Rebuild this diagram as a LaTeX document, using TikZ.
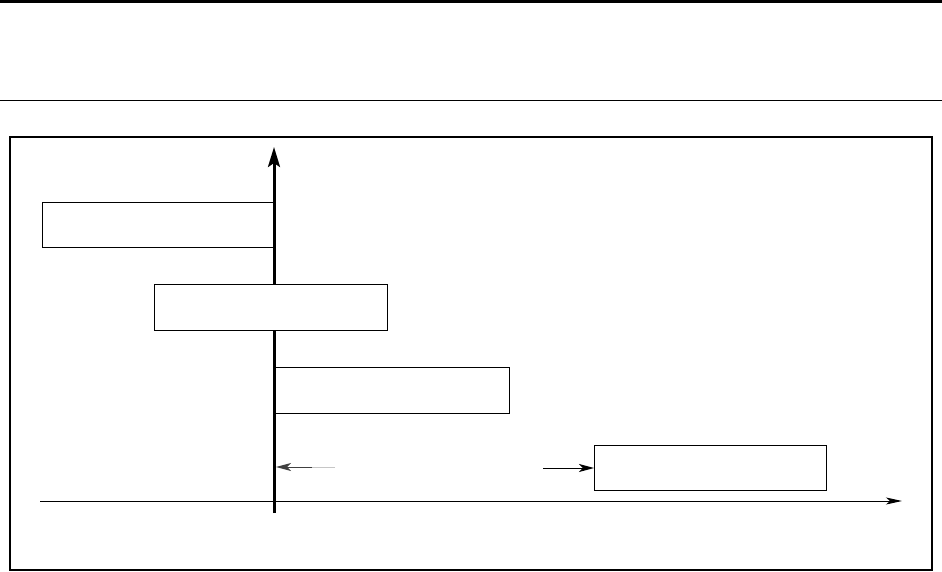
\documentclass[tikz,border=0pt]{standalone}
\usetikzlibrary{arrows.meta}
\begin{document}
\begin{tikzpicture}[x=1pt,y=-1pt,
  bar/.style={draw,fill=white,line width=1pt,minimum width=0pt,minimum height=0pt,inner sep=0pt},
  thinarrow/.style={line width=1pt,-{Stealth[length=15pt,width=8pt,inset=4pt]}},
  haxarrow/.style={-{Stealth[length=16pt,width=7pt,inset=4pt]}},
  vaxarrow/.style={-{Stealth[length=20pt,width=12pt,inset=4pt]}}]
\useasboundingbox (0,0) rectangle (942,572);
% header rules
\draw[line width=3pt] (0,1.5) -- (942,1.5);
\draw[line width=1.3pt] (0,100.5) -- (942,100.5);
% frame
\draw[line width=1.5pt] (10,137) rectangle (932,570);
% axes
\coordinate (xs) at (40,501);
\coordinate (xe) at (902,501);
\coordinate (ys) at (274,513);
\coordinate (ye) at (274,147);
\draw[line width=1pt,haxarrow] (xs) -- (xe);
\draw[line width=3pt,vaxarrow] (ys) -- (ye);
% bars
\node[bar,minimum width=232pt,minimum height=45pt,anchor=north west] (b1) at (42,202) {};
\node[bar,minimum width=233pt,minimum height=46pt,anchor=north west] (b2) at (154,284) {};
\node[bar,minimum width=234pt,minimum height=46pt,anchor=north west] (b3) at (275,367) {};
\node[bar,minimum width=232pt,minimum height=45pt,anchor=north west] (b4) at (594,445) {};
\draw[line width=3pt] (274,202) -- (274,247);
\draw[line width=3pt] (274,367) -- (274,413);
% dimension arrows
\coordinate (a1s) at (335,467);
\coordinate (a1m) at (312,467);
\coordinate (a1e) at (276,467);
\coordinate (a2s) at (543,468);
\draw[gray!45,line width=1pt] (a1s) -- (a1m);
\draw[thinarrow,black!75] (a1m) -- (a1e);
\draw[thinarrow] (a2s) -- (b4.west |- a2s);
\end{tikzpicture}
\end{document}
